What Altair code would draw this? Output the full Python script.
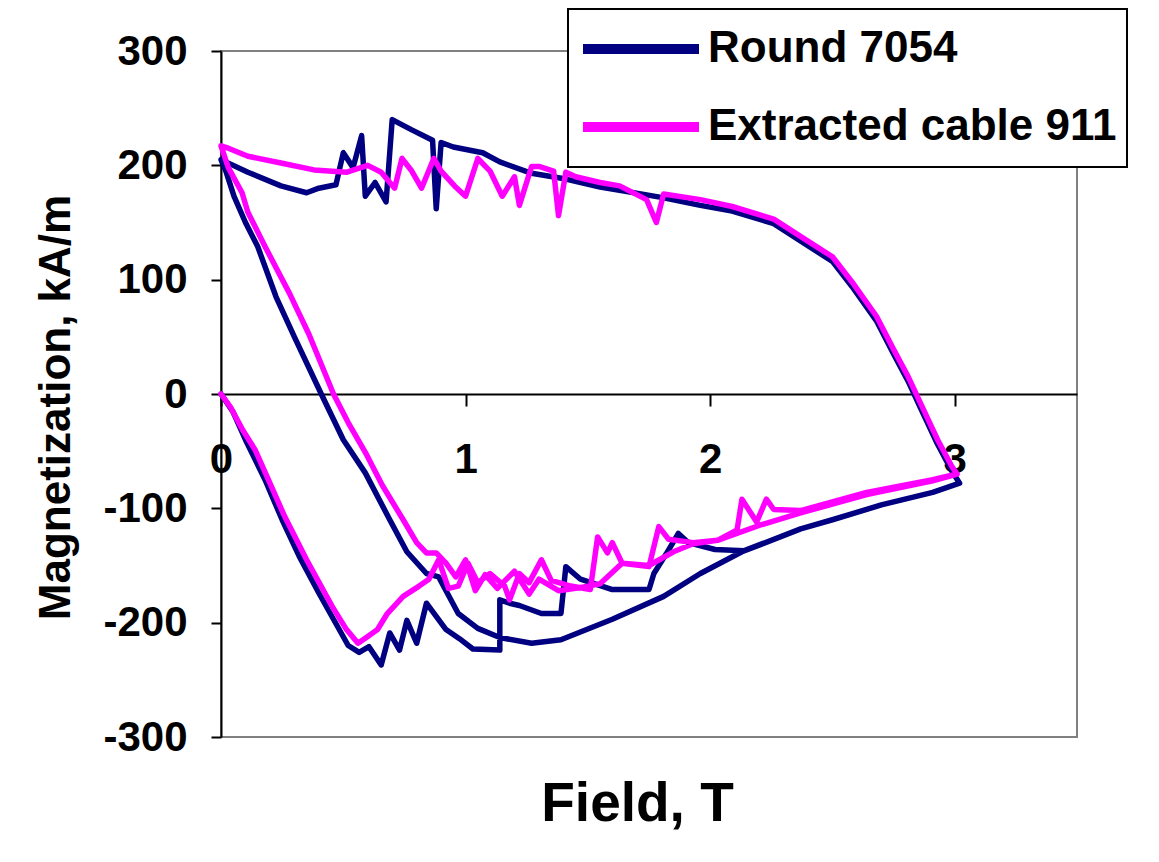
import altair as alt
import pandas as pd

SERIES = ["Round 7054", "Extracted cable 911"]
COLORS = ["#000080", "#FF00FF"]

# ---- Round 7054 (navy) ----
# virgin ramp 0 -> 3 T
n1_b = [0, 0.05, 0.10, 0.18, 0.25, 0.32, 0.40, 0.46, 0.52, 0.565, 0.605, 0.655, 0.69, 0.73, 0.76, 0.80,
        0.84, 0.92, 0.975, 1.03, 1.14, 1.14, 1.18, 1.22, 1.31, 1.39, 1.41, 1.47, 1.60, 1.75, 1.77, 1.82,
        1.87, 1.91, 2.02, 2.14, 2.37, 2.50, 2.70, 2.91, 3.02]
n1_m = [0, -16, -40, -75, -110, -142, -174, -197, -220, -226, -221, -237, -209, -224, -198, -218,
        -183, -206, -214, -223, -224, -180, -183, -185, -192, -192, -151, -162, -171, -171, -157, -140,
        -122, -130, -136, -137, -118, -110, -97, -86, -78]
# down ramp 3 -> 0 T
n2_b = [3.02, 2.99, 2.93, 2.86, 2.81, 2.75, 2.68, 2.58, 2.50, 2.39, 2.26, 2.09, 1.96, 1.80, 1.55, 1.41,
        1.27, 1.14, 1.07, 0.95, 0.90, 0.88, 0.865, 0.78, 0.70, 0.675, 0.63, 0.59, 0.575, 0.54, 0.50,
        0.47, 0.40, 0.35, 0.245, 0.11, 0]
n2_m = [-78, -68, -44, -12, 11, 35, 64, 94, 116, 131, 149, 160, 165, 172, 181, 188,
        193, 203, 211, 216, 220, 162, 222, 231, 240, 168, 185, 173, 226, 198, 211,
        183, 180, 176, 182, 194, 205]
# second ramp 0 -> 3 T
n3_b = [0, 0.02, 0.053, 0.10, 0.15, 0.225, 0.30, 0.41, 0.50, 0.59, 0.69, 0.76, 0.84, 0.89, 0.97, 1.05,
        1.14, 1.27, 1.39, 1.60, 1.81, 1.96, 2.13, 2.37, 2.50, 2.70, 2.91, 3.02]
n3_m = [205, 195, 173, 150, 129, 85, 50, 0, -40, -69, -110, -138, -157, -160, -192, -205,
        -213, -218, -215, -197, -177, -157, -138, -118, -110, -97, -86, -78]

# ---- Extracted cable 911 (magenta) ----
p1_b = [0, 0.04, 0.09, 0.14, 0.20, 0.26, 0.35, 0.455, 0.51, 0.56, 0.60, 0.64, 0.68, 0.745, 0.81, 0.85,
        0.89, 0.93, 0.97, 1.01, 1.05, 1.10, 1.16, 1.18, 1.22, 1.26, 1.31, 1.35, 1.43, 1.51, 1.54, 1.58,
        1.60, 1.64, 1.75, 1.79, 1.83, 1.93, 2.03, 2.11, 2.13, 2.19, 2.23, 2.26, 2.37, 2.64, 2.91, 3.01]
p1_m = [0, -12, -32, -49, -78, -107, -145, -186, -205, -218, -212, -206, -192, -177, -168, -162,
        -145, -170, -168, -148, -165, -157, -168, -180, -157, -165, -145, -163, -168, -171, -125, -139,
        -130, -148, -151, -116, -127, -130, -128, -119, -92, -112, -92, -101, -102, -86, -75, -70]
p2_b = [3.01, 2.99, 2.93, 2.86, 2.81, 2.75, 2.68, 2.58, 2.50, 2.39, 2.26, 2.09, 1.96, 1.81, 1.78, 1.74,
        1.63, 1.55, 1.45, 1.41, 1.38, 1.36, 1.30, 1.27, 1.22, 1.20, 1.15, 1.10, 1.05, 1.0, 0.955, 0.90,
        0.87, 0.82, 0.78, 0.74, 0.71, 0.655, 0.60, 0.515, 0.38, 0.245, 0.11, 0.03, 0]
p2_m = [-70, -64, -40, -8, 15, 39, 68, 98, 120, 135, 153, 164, 170, 175, 150, 170,
        182, 185, 190, 194, 156, 195, 199, 199, 165, 190, 173, 195, 206, 173, 182, 195,
        206, 180, 195, 206, 180, 194, 200, 194, 196, 202, 208, 215, 217]
p3_b = [0, 0.03, 0.086, 0.11, 0.18, 0.28, 0.36, 0.46, 0.52, 0.59, 0.66, 0.745, 0.80, 0.84, 0.88, 0.92,
        0.96, 1.0, 1.04, 1.08, 1.13, 1.2, 1.26, 1.3, 1.38, 1.45, 1.5, 1.55, 1.64, 1.75, 1.85, 1.93,
        2.03, 2.2, 2.37, 2.64, 2.91, 3.01]
p3_m = [217, 198, 176, 159, 129, 88, 52, 0, -25, -51, -80, -110, -130, -139, -139, -148,
        -160, -145, -172, -158, -170, -155, -175, -162, -172, -170, -168, -166, -148, -150, -138, -131,
        -128, -115, -104, -88, -76, -70]


def build(series, segments):
    rows = []
    i = 0
    for bs, ms in segments:
        for b, m in zip(bs, ms):
            rows.append({"series": series, "B": b, "M": m, "i": i})
            i += 1
    return pd.DataFrame(rows)


navy = build(SERIES[0], [(n1_b, n1_m), (n2_b, n2_m), (n3_b, n3_m)])
mag = build(SERIES[1], [(p1_b, p1_m), (p2_b, p2_m), (p3_b, p3_m)])

FONT = "Liberation Sans"

x_enc = alt.X("B:Q",
              scale=alt.Scale(domain=[0, 3.5], nice=False, zero=False),
              axis=alt.Axis(values=[0, 1, 2, 3], offset=-343, grid=False,
                            domainColor="black", domainWidth=2,
                            tickColor="black", tickWidth=2, tickSize=12,
                            labelFont=FONT, labelFontSize=42, labelFontWeight="bold",
                            labelColor="black", labelPadding=33, labelFlush=False,
                            labelOverlap=False, labelExpr="'' + datum.value",
                            title="Field, T", titleFont=FONT, titleFontSize=55,
                            titleFontWeight="bold", titleColor="black",
                            titleX=416, titleY=426, titleAlign="center",
                            titleBaseline="alphabetic"))
y_enc = alt.Y("M:Q",
              scale=alt.Scale(domain=[-300, 300], nice=False),
              axis=alt.Axis(values=[-300, -200, -100, 0, 100, 200, 300], grid=False,
                            domainColor="black", domainWidth=2,
                            tickColor="black", tickWidth=2, tickSize=10,
                            labelFont=FONT, labelFontSize=42, labelFontWeight="bold",
                            labelColor="black", labelPadding=24, labelFlush=False,
                            labelOverlap=False, labelExpr="'' + datum.value",
                            title="Magnetization, kA/m", titleFont=FONT, titleFontSize=44,
                            titleFontWeight="bold", titleColor="black",
                            titleAngle=-90, titleX=-152, titleY=356,
                            titleAlign="center", titleBaseline="alphabetic"))
c_enc = alt.Color("series:N",
                  scale=alt.Scale(domain=SERIES, range=COLORS),
                  legend=alt.Legend(orient="none", legendX=347, legendY=-42, title=None,
                                    strokeColor="black", fillColor="white", padding=10,
                                    symbolType="stroke", symbolSize=13456,
                                    symbolStrokeWidth=10, clipHeight=60,
                                    labelFont=FONT, labelFontSize=44, labelFontWeight="bold",
                                    labelColor="black", labelOffset=4, rowPadding=18,
                                    labelLimit=600))


def layer(df):
    return alt.Chart(df).mark_line(strokeWidth=5.5, strokeJoin="round", strokeCap="round").encode(
        x=x_enc, y=y_enc, color=c_enc, order=alt.Order("i:Q"))


chart = alt.layer(layer(navy), layer(mag)).properties(
    width=856, height=686,
    autosize=alt.AutoSizeParams(type="none"),
    padding={"left": 213, "top": 43, "right": 74, "bottom": 117},
    background="white",
).configure_view(stroke="#808080", strokeWidth=2).configure_legend(strokeWidth=2)

chart.save("out.html", embed_options={"renderer": "svg", "actions": False})
